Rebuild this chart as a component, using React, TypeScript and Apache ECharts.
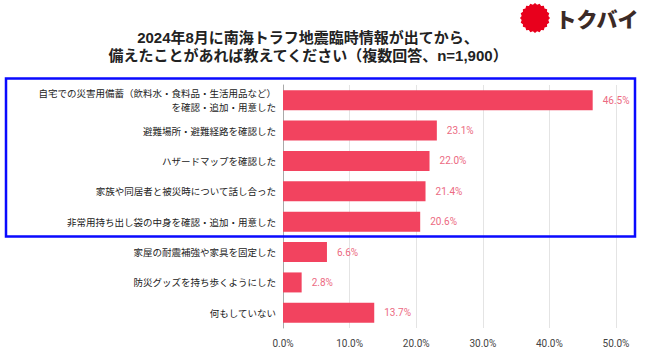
import React, { useEffect, useRef } from "react";
import * as echarts from "echarts";

const categories = [
  "自宅での災害用備蓄（飲料水・食料品・生活用品など）\nを確認・追加・用意した",
  "避難場所・避難経路を確認した",
  "ハザードマップを確認した",
  "家族や同居者と被災時について話し合った",
  "非常用持ち出し袋の中身を確認・追加・用意した",
  "家屋の耐震補強や家具を固定した",
  "防災グッズを持ち歩くようにした",
  "何もしていない",
];
const values = [46.5, 23.1, 22.0, 21.4, 20.6, 6.6, 2.8, 13.7];
const titleLines = [
  "2024年8月に南海トラフ地震臨時情報が出てから、",
  "備えたことがあれば教えてください（複数回答、n=1,900）",
];
const logoText = "トクバイ";

const CJK = "'Noto Sans CJK JP', sans-serif";
const TITLE_FONT = "'Liberation Sans', 'Noto Sans CJK JP', sans-serif";
const NUM_FONT = "Roboto, 'Noto Sans CJK JP', sans-serif";

function stampPoints(cx: number, cy: number, r1: number, r2: number, n: number) {
  const pts: number[][] = [];
  for (let i = 0; i < n * 2; i++) {
    const a = (Math.PI * i) / n;
    const r = i % 2 === 0 ? r1 : r2;
    pts.push([cx + r * Math.cos(a), cy + r * Math.sin(a)]);
  }
  return pts;
}

export default function App() {
  const ref = useRef<HTMLDivElement>(null);
  useEffect(() => {
    if (!ref.current) return;
    const chart = echarts.init(ref.current, null, { renderer: "svg" });
    chart.setOption({
      animation: false,
      backgroundColor: "#ffffff",
      grid: { left: 283, right: 34, top: 85, bottom: 33, containLabel: false },
      xAxis: {
        type: "value",
        min: 0,
        max: 50,
        interval: 10,
        axisLine: { show: false },
        axisTick: { show: false },
        splitLine: { show: true, lineStyle: { color: "#e4e4e4", width: 1 } },
        axisLabel: {
          formatter: (v: number) => v.toFixed(1) + "%",
          color: "#444",
          fontSize: 10,
          fontFamily: NUM_FONT,
          margin: 10,
        },
      },
      yAxis: {
        type: "category",
        data: categories,
        inverse: true,
        axisLine: { show: true, lineStyle: { color: "#aaaaaa" } },
        axisTick: { show: false },
        axisLabel: {
          color: "#222",
          fontSize: 9.5,
          fontFamily: CJK,
          margin: 7,
          lineHeight: 14,
          align: "right",
        },
      },
      series: [
        {
          type: "bar",
          data: values,
          barWidth: 20,
          itemStyle: { color: "#f2435f" },
          label: {
            show: true,
            position: "right",
            distance: 10,
            formatter: (p: any) => p.value.toFixed(1) + "%",
            color: "#ec6a82",
            fontSize: 10,
            fontFamily: NUM_FONT,
          },
        },
      ],
      graphic: [
        {
          type: "text",
          x: 308,
          y: 37,
          style: {
            text: titleLines[0],
            textAlign: "center",
            textVerticalAlign: "middle",
            fontSize: 15,
            fontWeight: "bold",
            fontFamily: TITLE_FONT,
            fill: "#222",
          },
        },
        {
          type: "text",
          x: 308,
          y: 55,
          style: {
            text: titleLines[1],
            textAlign: "center",
            textVerticalAlign: "middle",
            fontSize: 15,
            fontWeight: "bold",
            fontFamily: TITLE_FONT,
            fill: "#222",
          },
        },
        {
          type: "polygon",
          shape: { points: stampPoints(535, 18, 15, 13.5, 20) },
          style: { fill: "#e8001c" },
        },
        {
          type: "text",
          x: 597,
          y: 18,
          style: {
            text: logoText,
            textAlign: "center",
            textVerticalAlign: "middle",
            fontSize: 21,
            fontWeight: 900,
            fontFamily: CJK,
            fill: "#3b2a26",
          },
        },
        {
          type: "rect",
          shape: { x: 6, y: 78.5, width: 629, height: 158 },
          style: { fill: "none", stroke: "#0a0aff", lineWidth: 2.5 },
          z: 100,
        },
      ],
    });
    return () => chart.dispose();
  }, []);
  return <div ref={ref} style={{ width: 650, height: 361, position: "absolute", left: 0, top: 0 }} />;
}
